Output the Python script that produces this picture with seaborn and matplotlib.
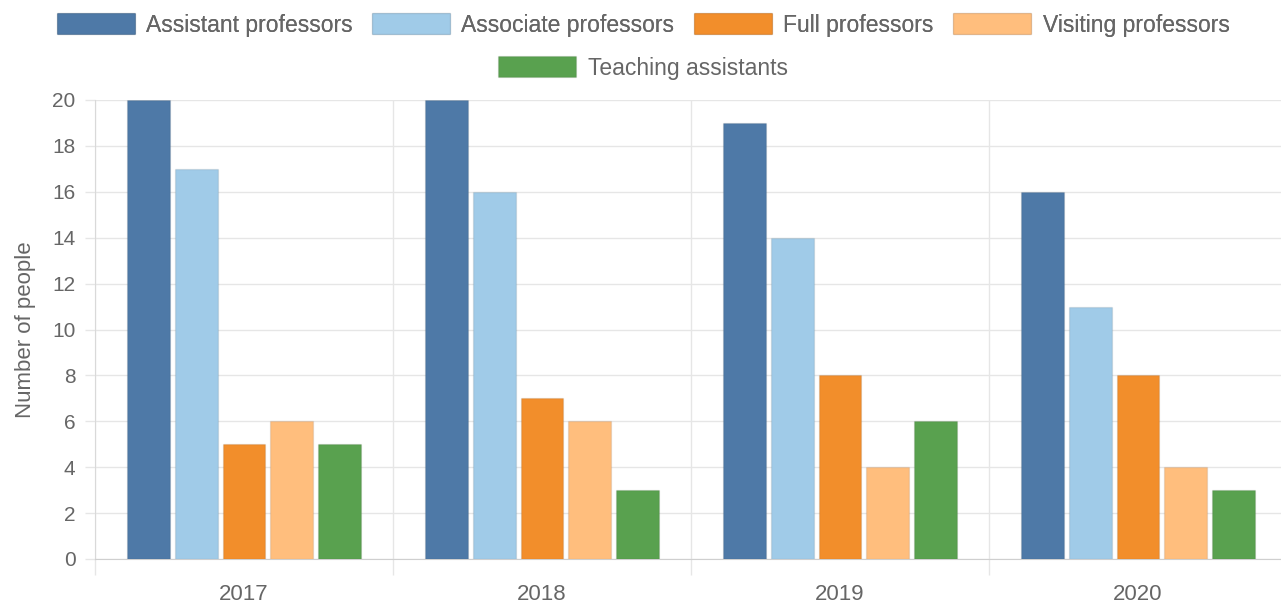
import pandas as pd
import numpy as np
import matplotlib.pyplot as plt
import seaborn as sns
from matplotlib.patches import Patch

years = ['2017', '2018', '2019', '2020']
groups = ['Assistant professors', 'Associate professors', 'Full professors',
          'Visiting professors', 'Teaching assistants']
assistant = [20, 20, 19, 16]
associate = [17, 16, 14, 11]
full = [5, 7, 8, 8]
visiting = [6, 6, 4, 4]
teaching = [5, 3, 6, 3]
colors = ['#4e79a7', '#a0cbe8', '#f28e2b', '#ffbe7d', '#59a14f']

# long format table for seaborn
series = [assistant, associate, full, visiting, teaching]
rows = []
for g, vals in zip(groups, series):
    for y, v in zip(years, vals):
        rows.append({'year': y, 'group': g, 'count': v})
df = pd.DataFrame(rows)

sns.set_style('white')
plt.rcParams['font.family'] = ['Liberation Sans', 'DejaVu Sans']
txt = '#666666'
grid = '#e6e6e6'

fig = plt.figure(figsize=(12.81, 6.05), dpi=100)
ax = fig.add_axes([95 / 1281, 1 - 559 / 605, 1192 / 1281, (559 - 100) / 605])

sns.barplot(data=df, x='year', y='count', hue='group', hue_order=groups,
            palette=colors, saturation=1, width=0.8, gap=0.1, errorbar=None,
            legend=False, edgecolor=(0, 0, 0, 0.08), linewidth=1, ax=ax, zorder=3)

ax.set_xlim(-0.5, 3.5)
ax.set_ylim(0, 20)
ax.set_yticks(np.arange(0, 21, 2))
ax.set_xticks(range(len(years)))
ax.set_xticklabels(years)
ax.set_xticks(np.arange(-0.5, 4, 1), minor=True)

ax.grid(False)
ax.yaxis.grid(True, color=grid, linewidth=1, zorder=0)
ax.xaxis.grid(True, which='minor', color=grid, linewidth=1, zorder=0)
ax.set_axisbelow(True)

ax.tick_params(axis='x', which='major', length=0, pad=18, labelsize=16, labelcolor=txt)
ax.tick_params(axis='x', which='minor', length=11.5, width=1, color=grid, bottom=True)
ax.tick_params(axis='y', length=7, width=1, color=grid, pad=7, labelsize=15,
               labelcolor=txt, left=True)

for s in ['top', 'right']:
    ax.spines[s].set_visible(False)
ax.spines['left'].set_color('#d9d9d9')
ax.spines['bottom'].set_color('#cfcfcf')

ax.set_xlabel('')
ax.set_ylabel('Number of people', fontsize=16, color=txt, labelpad=12)

handles = [Patch(facecolor=c, edgecolor=(0, 0, 0, 0.08), linewidth=1) for c in colors]
leg_kw = dict(frameon=False, fontsize=16.5, labelcolor=txt, handlelength=3.4,
              handleheight=1.0, handletextpad=0.5, columnspacing=0.85,
              borderpad=0, loc='center')
leg1 = fig.legend(handles[:4], groups[:4], ncol=4,
                  bbox_to_anchor=(643 / 1281, 1 - 25 / 605), **leg_kw)
fig.add_artist(leg1)
fig.legend(handles[4:], groups[4:], ncol=1,
           bbox_to_anchor=(643 / 1281, 1 - 68 / 605), **leg_kw)

plt.savefig('out.png', dpi=100)
